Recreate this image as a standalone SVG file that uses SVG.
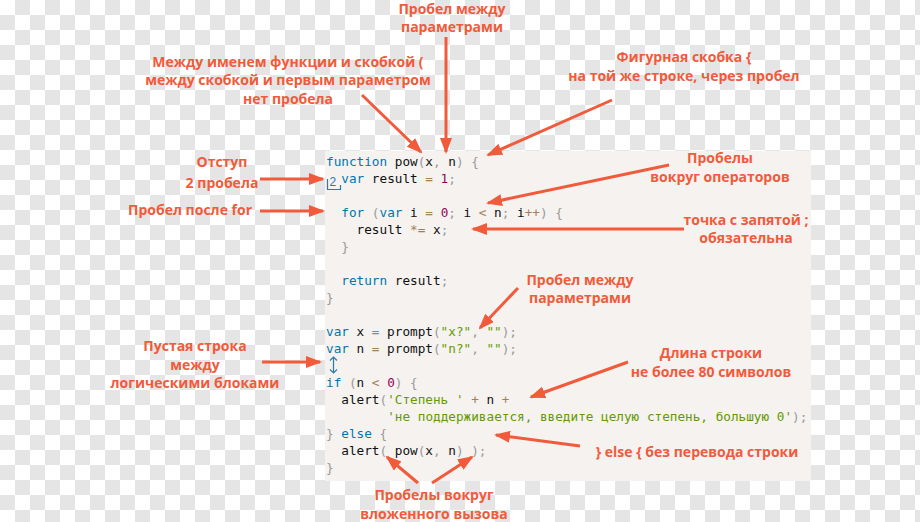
<svg xmlns="http://www.w3.org/2000/svg" width="920" height="522" viewBox="0 0 920 522">
<defs>
<pattern id="chk" x="0" y="0" width="30" height="30" patternUnits="userSpaceOnUse">
<rect width="30" height="30" fill="#ffffff"/>
<rect x="15" y="0" width="15" height="15" fill="#e5e5e5"/>
<rect x="0" y="15" width="15" height="15" fill="#e5e5e5"/>
</pattern>
<marker id="ah" markerUnits="userSpaceOnUse" markerWidth="16" markerHeight="12" refX="14" refY="6" orient="auto">
<path d="M0,0 L16,6 L0,12 z" fill="#f15a3a"/>
</marker>
</defs>
<style>
.code{font-family:"DejaVu Sans Mono","Liberation Mono",monospace;font-size:12.7px;fill:#111111}
.k{fill:#0077aa}
.n{fill:#990055}
.o{fill:#a67f59}
.p{fill:#999999}
.s{fill:#669900}
.a{font-family:"Open Sans","Noto Sans",sans-serif;font-weight:bold;font-size:14px;fill:#f15a3a;text-anchor:middle}
.ar{stroke:#f15a3a;stroke-width:3;fill:none;marker-end:url(#ah)}
.bl{stroke:#2a7ab0;stroke-width:1.2;fill:none}
</style>
<rect width="920" height="522" fill="url(#chk)"/>
<g id="code-panel">
<rect x="325" y="151" width="486" height="330" fill="#f5f2f0"/>
<text class="code" x="326" y="166"><tspan class="k">function</tspan> pow<tspan class="p">(</tspan>x<tspan class="p">,</tspan> n<tspan class="p">)</tspan> <tspan class="p">{</tspan></text>
<text class="code" x="341.3" y="183"><tspan class="k">var</tspan> result <tspan class="o">=</tspan> <tspan class="n">1</tspan><tspan class="p">;</tspan></text>
<text class="code" x="341.3" y="217"><tspan class="k">for</tspan> <tspan class="p">(</tspan><tspan class="k">var</tspan> i <tspan class="o">=</tspan> <tspan class="n">0</tspan><tspan class="p">;</tspan> i <tspan class="o">&lt;</tspan> n<tspan class="p">;</tspan> i<tspan class="o">++</tspan><tspan class="p">)</tspan> <tspan class="p">{</tspan></text>
<text class="code" x="356.6" y="234">result <tspan class="o">*=</tspan> x<tspan class="p">;</tspan></text>
<text class="code" x="341.3" y="251"><tspan class="p">}</tspan></text>
<text class="code" x="341.3" y="285"><tspan class="k">return</tspan> result<tspan class="p">;</tspan></text>
<text class="code" x="326" y="302"><tspan class="p">}</tspan></text>
<text class="code" x="326" y="336"><tspan class="k">var</tspan> x <tspan class="o">=</tspan> prompt<tspan class="p">(</tspan><tspan class="s">"x?"</tspan><tspan class="p">,</tspan> <tspan class="s">""</tspan><tspan class="p">);</tspan></text>
<text class="code" x="326" y="353"><tspan class="k">var</tspan> n <tspan class="o">=</tspan> prompt<tspan class="p">(</tspan><tspan class="s">"n?"</tspan><tspan class="p">,</tspan> <tspan class="s">""</tspan><tspan class="p">);</tspan></text>
<text class="code" x="326" y="387"><tspan class="k">if</tspan> <tspan class="p">(</tspan>n <tspan class="o">&lt;</tspan> <tspan class="n">0</tspan><tspan class="p">)</tspan> <tspan class="p">{</tspan></text>
<text class="code" x="341.3" y="404">alert<tspan class="p">(</tspan><tspan class="s">'Степень '</tspan> <tspan class="o">+</tspan> n <tspan class="o">+</tspan></text>
<text class="code" x="387.2" y="421"><tspan class="s">'не поддерживается, введите целую степень, большую 0'</tspan><tspan class="p">);</tspan></text>
<text class="code" x="326" y="438"><tspan class="p">}</tspan> <tspan class="k">else</tspan> <tspan class="p">{</tspan></text>
<text class="code" x="341.3" y="455">alert<tspan class="p">(</tspan> pow<tspan class="p">(</tspan>x<tspan class="p">,</tspan> n<tspan class="p">)</tspan> <tspan class="p">);</tspan></text>
<text class="code" x="326" y="472"><tspan class="p">}</tspan></text>
</g>
<g id="indent-marker">
<text x="329.5" y="186" style="font-family:'Liberation Sans',sans-serif;font-size:12px;fill:#2a7ab0">2</text>
<path class="bl" d="M327.5,179 V189.5 H340.5 V185"/>
</g>
<g id="blank-line-marker">
<path class="bl" d="M333.5,357 V373 M330,360.5 L333.5,357 L337,360.5 M330,369.5 L333.5,373 L337,369.5"/>
</g>
<g id="note-params-top"><text class="a" x="452" y="14">Пробел между</text><text class="a" x="452" y="32">параметрами</text></g>
<g id="note-func-name"><text class="a" x="288" y="67">Между именем функции и скобкой (</text><text class="a" x="288" y="85">между скобкой и первым параметром</text><text class="a" x="288" y="104">нет пробела</text></g>
<g id="note-brace"><text class="a" x="684" y="62">Фигурная скобка {</text><text class="a" x="684" y="81">на той же строке, через пробел</text></g>
<g id="note-operators"><text class="a" x="720" y="163">Пробелы</text><text class="a" x="720" y="182">вокруг операторов</text></g>
<g id="note-semicolon"><text class="a" x="746" y="225">точка с запятой ;</text><text class="a" x="746" y="243">обязательна</text></g>
<g id="note-indent"><text class="a" x="222" y="167">Отступ</text><text class="a" x="222" y="188">2 пробела</text></g>
<g id="note-for"><text class="a" x="190" y="215">Пробел после for</text></g>
<g id="note-blank-line"><text class="a" x="195" y="351">Пустая строка</text><text class="a" x="195" y="370">между</text><text class="a" x="195" y="388">логическими блоками</text></g>
<g id="note-params-mid"><text class="a" x="580" y="285">Пробел между</text><text class="a" x="580" y="303">параметрами</text></g>
<g id="note-line-length"><text class="a" x="711" y="358">Длина строки</text><text class="a" x="711" y="377">не более 80 символов</text></g>
<g id="note-else"><text class="a" x="697" y="457">} else { без перевода строки</text></g>
<g id="note-nested"><text class="a" x="434" y="500">Пробелы вокруг</text><text class="a" x="434" y="519">вложенного вызова</text></g>
<g id="connectors">
<line class="ar" x1="446" y1="37" x2="446" y2="152"/>
<line class="ar" x1="362" y1="95" x2="421" y2="152"/>
<line class="ar" x1="612" y1="100" x2="488" y2="155"/>
<line class="ar" x1="669" y1="165" x2="488" y2="203"/>
<line class="ar" x1="684" y1="229" x2="473" y2="229"/>
<line class="ar" x1="260" y1="179" x2="323" y2="179"/>
<line class="ar" x1="260" y1="211" x2="323" y2="211"/>
<line class="ar" x1="262" y1="362" x2="320" y2="362"/>
<line class="ar" x1="518" y1="288" x2="480" y2="328"/>
<line class="ar" x1="628" y1="362" x2="531" y2="397"/>
<line class="ar" x1="580" y1="446" x2="496" y2="435"/>
<line class="ar" x1="418" y1="483" x2="387" y2="457"/>
<line class="ar" x1="432" y1="483" x2="472" y2="457"/>
</g>
</svg>
